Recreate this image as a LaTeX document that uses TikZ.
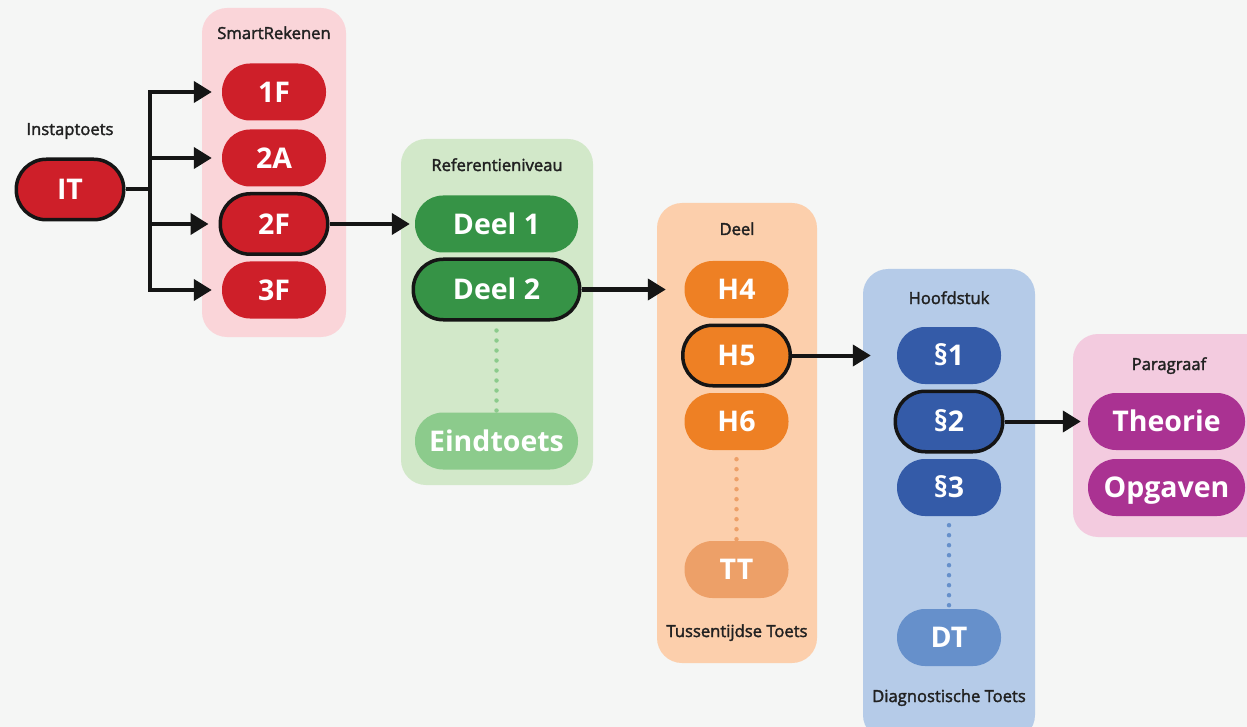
\documentclass[tikz,border=0pt]{standalone}
\usepackage{fontspec}
\setmainfont{Open Sans}
\newfontfamily\labelfont{Open Sans}[FakeBold=2]
\usetikzlibrary{arrows.meta}

\definecolor{bg}{HTML}{F5F6F5}
\definecolor{ink}{HTML}{151515}
\definecolor{smartbg}{HTML}{FAD5D9}
\definecolor{refbg}{HTML}{D2E8C9}
\definecolor{deelbg}{HTML}{FCCFAC}
\definecolor{hoofdbg}{HTML}{B5CBE8}
\definecolor{parabg}{HTML}{F3CBDF}
\definecolor{redpill}{HTML}{CE1F29}
\definecolor{greenpill}{HTML}{369346}
\definecolor{greenlight}{HTML}{8CCB8C}
\definecolor{orangepill}{HTML}{EE8024}
\definecolor{orangelight}{HTML}{EDA068}
\definecolor{bluepill}{HTML}{345BA8}
\definecolor{bluelight}{HTML}{6690CB}
\definecolor{purplepill}{HTML}{AA3292}

\begin{document}
\begin{tikzpicture}[x=1pt,y=-1pt,
  panel/.style={rounded corners=25pt},
  pill/.style={rectangle,rounded corners=28pt,minimum width=104pt,minimum height=57pt,
    inner sep=0pt,text=white,font=\bfseries\fontsize{28.5}{28.5}\selectfont,
    text height=20.3pt,text depth=0pt},
  sel/.style={draw=ink,line width=3.5pt,minimum width=107.5pt,minimum height=60.5pt,
    rounded corners=30pt},
  lbl/.style={font=\labelfont\fontsize{16.6}{16.6}\selectfont,text=ink!95!white,anchor=base},
  arr/.style={draw=ink,line width=4pt,-{Triangle[length=18pt,width=21pt]}},
  dots/.style={line width=4.5pt,line cap=round,dash pattern=on 0pt off 10pt}]

\fill[bg] (0,0) rectangle (1247,727);
\useasboundingbox (0,0) rectangle (1247,727);

\fill[smartbg,panel] (202,8) rectangle (346,337);
\fill[refbg,panel] (401,139) rectangle (593,485);
\fill[deelbg,panel] (657,203) rectangle (817,663);
\fill[hoofdbg,panel] (863,269) rectangle (1035,740);
\fill[parabg,panel] (1073,334) rectangle (1275,537);

\node[lbl] (instap) at (70,135) {Instaptoets};
\node[lbl] (smart) at (274,39) {SmartRekenen};
\node[lbl] (refniv) at (497,171) {Referentieniveau};
\node[lbl] (deel) at (737,235) {Deel};
\node[lbl] (tussen) at (737,637) {Tussentijdse Toets};
\node[lbl] (hoofd) at (949,304) {Hoofdstuk};
\node[lbl] (diag) at (949,702) {Diagnostische Toets};
\node[lbl] (para) at (1169,370) {Paragraaf};

\node[pill,fill=redpill,sel] (it) at (70,189.5) {IT};
\node[pill,fill=redpill] (f1) at (274,92) {1F};
\node[pill,fill=redpill] (a2) at (274,158) {2A};
\node[pill,fill=redpill,sel] (f2) at (274,224) {2F};
\node[pill,fill=redpill] (f3) at (274,290) {3F};

\node[pill,fill=greenpill,minimum width=163pt] (d1) at (496.5,224) {Deel 1};
\node[pill,fill=greenpill,sel,minimum width=166.5pt] (d2) at (496.5,289.5) {Deel 2};
\node[pill,fill=greenlight,minimum width=163pt] (eind) at (496.5,441) {Eindtoets};

\node[pill,fill=orangepill] (h4) at (736.5,289.5) {H4};
\node[pill,fill=orangepill,sel] (h5) at (736.5,355.5) {H5};
\node[pill,fill=orangepill] (h6) at (736.5,421.5) {H6};
\node[pill,fill=orangelight] (tt) at (736.5,569.5) {TT};

\node[pill,fill=bluepill] (p1) at (949,355.5) {§1};
\node[pill,fill=bluepill,sel] (p2) at (949,421.5) {§2};
\node[pill,fill=bluepill] (p3) at (949,487.5) {§3};
\node[pill,fill=bluelight] (dt) at (949,637.5) {DT};

\node[pill,fill=purplepill,minimum width=157pt] (theorie) at (1166.5,421.5) {Theorie};
\node[pill,fill=purplepill,minimum width=157pt] (opgaven) at (1166.5,487.5) {Opgaven};

\coordinate (split) at (150,189.5);
\draw[draw=ink,line width=4pt] (it) -- (split);
\foreach \n in {f1,a2,f2,f3}
  \draw[arr,shorten >=10pt] (split) |- (\n);

\draw[arr,shorten >=5pt] (f2) -- (d1);
\draw[arr,shorten >=18.5pt] (d2) -- (h4);
\draw[arr,shorten >=26pt] (h5) -- (p1);
\draw[arr,shorten >=7pt] (p2) -- (theorie);

\draw[dots,greenlight,shorten <=9pt] (d2) -- (eind);
\draw[dots,orangelight,shorten <=9pt] (h6) -- (tt);
\draw[dots,bluelight,shorten <=9pt] (p3) -- (dt);
\end{tikzpicture}
\end{document}
